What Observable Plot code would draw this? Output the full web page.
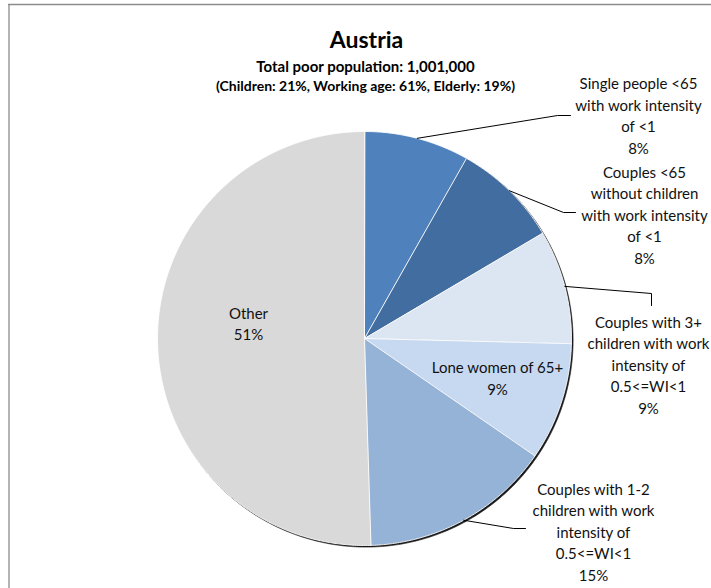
<!DOCTYPE html>
<html>
<head>
<meta charset="utf-8">
<script src="https://cdn.jsdelivr.net/npm/d3@7"></script>
<script src="https://cdn.jsdelivr.net/npm/@observablehq/plot@0.6"></script>
<style>
  html, body { margin: 0; padding: 0; background: #fff; overflow: hidden; }
  #chart { width: 711px; height: 588px; overflow: hidden; }
</style>
</head>
<body>
<div id="chart"></div>
<script>
// ---- data ----
const categories = [
  "Single people <65\nwith work intensity\nof <1",
  "Couples <65\nwithout children\nwith work intensity\nof <1",
  "Couples with 3+\nchildren with work\nintensity of\n0.5<=WI<1",
  "Lone women of 65+",
  "Couples with 1-2\nchildren with work\nintensity of\n0.5<=WI<1",
  "Other"
];
const shares = [8.2, 8.3, 8.9, 9.2, 14.9, 50.5];
const sliceColors = ["#4F81BD", "#426DA0", "#DCE6F2", "#C6D9F1", "#95B3D7", "#D9D9D9"];
const titleText = "Austria";
const subtitleLines = ["Total poor population: 1,001,000", "(Children: 21%, Working age: 61%, Elderly: 19%)"];

// ---- layout ----
const W = 711, H = 588;
const cx = 364, cy = 338, R = 207;
const font = "Lato, 'Liberation Sans', Arial, sans-serif";

// label block centres and leader elbows (layout only)
const labelPos = [
  {x: 638, y: 114,   leader: [[557, 115], [570, 115]]},
  {x: 644, y: 213.5, leader: [[563, 212], [575, 212]]},
  {x: 648, y: 363.5, leader: [[651, 293], [651, 305]]},
  {x: 497, y: 376.5, leader: null},
  {x: 593, y: 530.5, leader: [[513, 528], [525, 528]]},
  {x: 248, y: 322,   leader: null}
];

const pie = d3.pie().sort(null).value(d => d).startAngle(0).endAngle(2 * Math.PI);
const arcs = pie(shares);
const pt = (a, r, ox = 0, oy = 0) => ({x: cx + ox + r * Math.sin(a), y: cy + oy - r * Math.cos(a)});

function slicePoints(a0, a1) {
  const pts = [{x: cx, y: cy}];
  const n = Math.max(2, Math.ceil((a1 - a0) / (Math.PI / 360)));
  for (let i = 0; i <= n; i++) pts.push(pt(a0 + (a1 - a0) * i / n, R));
  return pts;
}
const shadowPts = d3.range(0, 361).map(i => pt(i * Math.PI / 180, R, 1.6, 1.6));

const marks = [];
// frame
marks.push(Plot.ruleY([4], {x1: 8, x2: W, stroke: "#8c8c8c", strokeWidth: 1.3}));
marks.push(Plot.ruleX([8.5], {y1: 4, y2: H, stroke: "#8c8c8c", strokeWidth: 1.3}));
// shadow
marks.push(Plot.line(shadowPts, {x: "x", y: "y", fill: "#1a1a1a", stroke: "#1a1a1a", strokeWidth: 0.6, curve: "linear-closed"}));
// slices
arcs.forEach((a, i) => {
  marks.push(Plot.line(slicePoints(a.startAngle, a.endAngle), {
    x: "x", y: "y", fill: sliceColors[i], stroke: "white", strokeWidth: 0.9,
    strokeLinejoin: "round", curve: "linear-closed"
  }));
});
// leader lines
arcs.forEach((a, i) => {
  const lp = labelPos[i];
  if (!lp.leader) return;
  const mid = (a.startAngle + a.endAngle) / 2;
  const pts = [pt(mid, R), ...lp.leader.map(([x, y]) => ({x, y}))];
  marks.push(Plot.line(pts, {x: "x", y: "y", stroke: "black", strokeWidth: 1}));
});
// labels
const labelData = categories.map((c, i) => ({
  text: c + "\n" + Math.round(shares[i]) + "%", x: labelPos[i].x, y: labelPos[i].y
}));
marks.push(Plot.text(labelData, {
  x: "x", y: "y", text: "text", fontSize: 15, lineHeight: 1.43, fill: "#111",
  textAnchor: "middle", lineAnchor: "middle", fontFamily: font
}));
// title & subtitle
marks.push(Plot.text([titleText], {x: () => 366, y: () => 40, text: d => d, fontSize: 23, fontWeight: "bold", fill: "#000", fontFamily: font, lineAnchor: "middle"}));
marks.push(Plot.text([subtitleLines[0]], {x: () => 365, y: () => 67, text: d => d, fontSize: 15, fontWeight: "bold", fill: "#000", fontFamily: font, lineAnchor: "middle"}));
marks.push(Plot.text([subtitleLines[1]], {x: () => 365, y: () => 86.5, text: d => d, fontSize: 14, fontWeight: "bold", fill: "#000", fontFamily: font, lineAnchor: "middle"}));

const chart = Plot.plot({
  width: W, height: H, margin: 0,
  x: {domain: [0, W], range: [0, W], axis: null},
  y: {domain: [0, H], range: [0, H], axis: null},
  style: {fontFamily: font, background: "white", overflow: "hidden"},
  marks
});
document.getElementById("chart").appendChild(chart);
</script>
</body>
</html>
